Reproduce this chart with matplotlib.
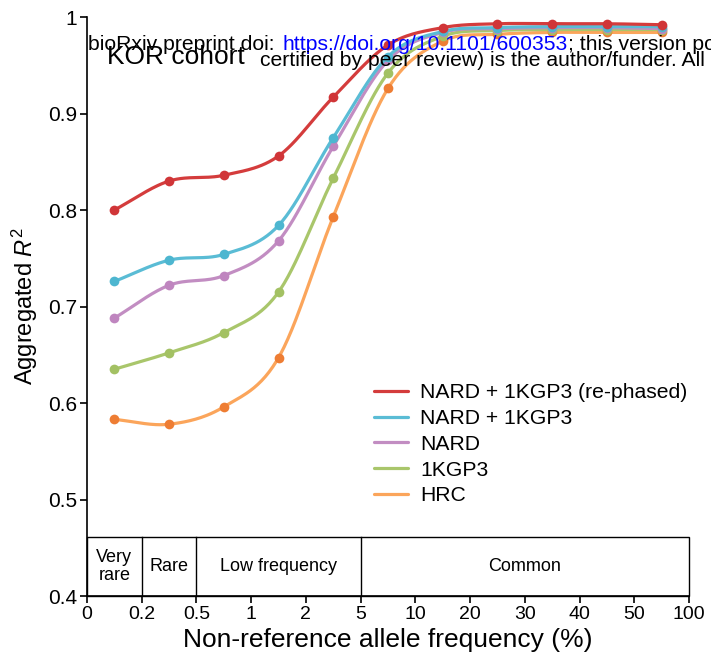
import numpy as np
import matplotlib
matplotlib.use('Agg')
import matplotlib.pyplot as plt
from matplotlib.patches import Rectangle

plt.rcParams['font.family'] = ['Liberation Sans', 'DejaVu Sans']
plt.rcParams['mathtext.fontset'] = 'custom'
plt.rcParams['mathtext.it'] = 'Liberation Sans:italic'
plt.rcParams['mathtext.rm'] = 'Liberation Sans'

NARROW = ['Liberation Sans Narrow', 'Liberation Sans', 'DejaVu Sans']

# данные
tick_labels = ['0', '0.2', '0.5', '1', '2', '5', '10', '20', '30', '40', '50', '100']
series_names = ['NARD + 1KGP3 (re-phased)', 'NARD + 1KGP3', 'NARD', '1KGP3', 'HRC']
rephased = [0.800, 0.830, 0.836, 0.856, 0.917, 0.971, 0.989, 0.993, 0.993, 0.993, 0.992]
nard_1kgp3 = [0.726, 0.748, 0.754, 0.784, 0.875, 0.959, 0.985, 0.989, 0.990, 0.990, 0.990]
nard = [0.688, 0.722, 0.732, 0.768, 0.866, 0.955, 0.984, 0.988, 0.989, 0.989, 0.988]
kgp3 = [0.635, 0.652, 0.673, 0.715, 0.833, 0.942, 0.980, 0.986, 0.987, 0.987, 0.987]
hrc = [0.583, 0.578, 0.596, 0.647, 0.793, 0.926, 0.975, 0.982, 0.984, 0.984, 0.984]
bins = [('Very\nrare', 0, 1), ('Rare', 1, 2), ('Low frequency', 2, 5), ('Common', 5, 11)]

line_colors = ['#d43c3c', '#5abcd5', '#c28dc2', '#a9c66b', '#fba55b']
marker_colors = ['#d03538', '#4db6d0', '#bf85bf', '#a3c163', '#ee7d33']


def catmull_rom(x, y, n=30):
    # сглаживание линии как в Excel
    px = np.concatenate([[2 * x[0] - x[1]], x, [2 * x[-1] - x[-2]]])
    py = np.concatenate([[2 * y[0] - y[1]], y, [2 * y[-1] - y[-2]]])
    t = np.linspace(0, 1, n)
    xs, ys = [], []
    for i in range(1, len(px) - 2):
        for p, out in ((px, xs), (py, ys)):
            p0, p1, p2, p3 = p[i - 1], p[i], p[i + 1], p[i + 2]
            out.append(0.5 * (2 * p1 + (-p0 + p2) * t
                              + (2 * p0 - 5 * p1 + 4 * p2 - p3) * t ** 2
                              + (-p0 + 3 * p1 - 3 * p2 + p3) * t ** 3))
    return np.concatenate(xs), np.concatenate(ys)


fig = plt.figure(figsize=(7.11, 6.66), dpi=100)
ax = fig.add_axes([87 / 711, 1 - 596 / 666, 602 / 711, 579 / 666])

xpos = np.arange(len(rephased)) + 0.5
all_series = [rephased, nard_1kgp3, nard, kgp3, hrc]
# рисуем снизу вверх, чтобы красная была сверху
for vals, name, lc, mc in reversed(list(zip(all_series, series_names, line_colors, marker_colors))):
    sx, sy = catmull_rom(xpos, np.array(vals))
    ax.plot(sx, sy, color=lc, lw=2.3, label=name, solid_capstyle='round')
    ax.plot(xpos, vals, 'o', color=mc, ms=7, mec='none')

ax.set_xlim(0, 11)
ax.set_ylim(0.4, 1)
ax.spines['top'].set_visible(False)
ax.spines['right'].set_visible(False)
ax.spines['left'].set_linewidth(1.2)
ax.spines['bottom'].set_linewidth(1.2)
ax.set_xticks(np.arange(len(tick_labels)))
ax.set_xticklabels(tick_labels, fontsize=14, family=NARROW)
ax.set_yticks([0.4, 0.5, 0.6, 0.7, 0.8, 0.9, 1.0])
ax.set_yticklabels(['0.4', '0.5', '0.6', '0.7', '0.8', '0.9', '1'], fontsize=15)
ax.tick_params(direction='out', length=5, width=1.2, pad=2)

# блок с категориями частот
box_top = 0.461
ax.add_patch(Rectangle((0, 0.4), 11, box_top - 0.4, fill=False, lw=1.0, ec='black', clip_on=False))
for label, a, b in bins:
    if a > 0:
        ax.plot([a, a], [0.4, box_top], color='black', lw=1.0)
    ax.text((a + b) / 2, (0.4 + box_top) / 2, label, ha='center', va='center',
            fontsize=13, family=NARROW, linespacing=1.1)

ax.set_xlabel('Non-reference allele frequency (%)', fontsize=19, family=NARROW, labelpad=4)
ax.set_ylabel('Aggregated $R^2$', fontsize=17, labelpad=6)

handles, labels = ax.get_legend_handles_labels()
ax.legend(handles[::-1], labels[::-1], loc='upper left', bbox_to_anchor=(0.462, 0.382),
          frameon=False, fontsize=15.2, handlelength=1.65, handletextpad=0.56,
          labelspacing=0.32, borderaxespad=0)

# надписи сверху
fig.text(107 / 711, 1 - 57 / 666, 'KOR cohort', fontsize=19, va='center')
fig.text(88 / 711, 1 - 44 / 666, 'bioRxiv preprint doi: ', fontsize=15.2, va='center')
fig.text(283 / 711, 1 - 44 / 666, 'https://doi.org/10.1101/600353', fontsize=15.2, va='center', color='blue')
fig.text(568 / 711, 1 - 44 / 666, '; this version po', fontsize=15.2, va='center')
fig.text(260 / 711, 1 - 61 / 666, 'certified by peer review) is the author/funder. All',
         fontsize=15.2, va='center')

plt.savefig('out.png', dpi=100)
